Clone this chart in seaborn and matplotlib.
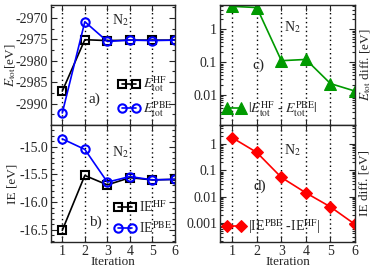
import numpy as np
import pandas as pd
import matplotlib
matplotlib.use("Agg")
import matplotlib.pyplot as plt
from matplotlib.ticker import FixedLocator, FixedFormatter, AutoMinorLocator, LogLocator, NullFormatter
import seaborn as sns

iteration = [1, 2, 3, 4, 5, 6]
etot_hf = [-2987.1, -2975.1, -2975.3, -2975.2, -2975.2, -2975.2]
etot_pbe = [-2992.2, -2970.9, -2975.5, -2975.2, -2975.3, -2975.2]
ie_hf = [-16.51, -15.52, -15.69, -15.56, -15.60, -15.59]
ie_pbe = [-14.86, -15.05, -15.64, -15.54, -15.60, -15.59]
etot_diff = [5.0, 4.6, 0.11, 0.12, 0.022, 0.013]
ie_diff = [1.74, 0.48, 0.054, 0.014, 0.0041, 0.00089]

sns.set_style("ticks")
plt.rcParams['font.family'] = ['Liberation Serif', 'DejaVu Serif']
plt.rcParams['mathtext.fontset'] = 'stix'
plt.rcParams['axes.unicode_minus'] = False
plt.rcParams['xtick.direction'] = 'in'
plt.rcParams['ytick.direction'] = 'in'

fig = plt.figure(figsize=(3.74, 2.69), dpi=100)
L0, L1 = 51/374, 175/374
R0, R1 = 220/374, 355/374
yt, ym, yb = 1-5/269, 1-125/269, 1-242/269
axa = fig.add_axes([L0, ym, L1-L0, yt-ym])
axb = fig.add_axes([L0, yb, L1-L0, ym-yb])
axc = fig.add_axes([R0, ym, R1-R0, yt-ym])
axd = fig.add_axes([R0, yb, R1-R0, ym-yb])

df = pd.DataFrame({"it": iteration, "etot_hf": etot_hf, "etot_pbe": etot_pbe,
                   "ie_hf": ie_hf, "ie_pbe": ie_pbe, "etot_diff": etot_diff, "ie_diff": ie_diff})

fs = 10
lfs = 9.5
lw = 1.2
ms = 5.5

leg_kw = dict(numpoints=2, frameon=False, fontsize=fs, handlelength=1.6,
              handletextpad=0.2, labelspacing=0.35, borderaxespad=0.1, borderpad=0.1)

def common(ax, bottom):
    ax.set_xlim(0.5, 6.0)
    ax.xaxis.set_major_locator(FixedLocator(iteration))
    for x in iteration[:-1]:
        ax.axvline(x, color='black', ls=(0, (1, 2.2)), lw=1.0, zorder=0)
    ax.tick_params(which='both', top=True, right=True, labelsize=fs, width=0.8, pad=2)
    ax.tick_params(which='major', length=4)
    ax.tick_params(which='minor', length=2)
    for s in ax.spines.values():
        s.set_linewidth(1.0)
    if bottom:
        ax.set_xlabel("Iteration", fontsize=lfs, labelpad=-1)
    else:
        ax.set_xlabel("")
        ax.xaxis.set_major_formatter(NullFormatter())
    ax.set_facecolor('white')

# a)
sns.lineplot(data=df, x="it", y="etot_hf", ax=axa, color='black', marker='s', markersize=ms,
             markerfacecolor='none', markeredgecolor='black', markeredgewidth=1.5, lw=lw,
             label=r"$E_{\rm tot}^{\rm HF}$")
sns.lineplot(data=df, x="it", y="etot_pbe", ax=axa, color='blue', marker='o', markersize=ms + 0.5,
             markerfacecolor='none', markeredgecolor='blue', markeredgewidth=1.5, lw=lw,
             label=r"$E_{\rm tot}^{\rm PBE}$")
common(axa, False)
axa.set_ylim(-2995, -2967)
axa.set_yticks([-2990, -2985, -2980, -2975, -2970])
axa.yaxis.set_minor_locator(AutoMinorLocator(2))
axa.set_ylabel(r"$E_{\rm tot}$[eV]", fontsize=lfs)
axa.yaxis.set_label_coords(-0.265, 0.5)
axa.legend(loc='lower right', bbox_to_anchor=(1.0, 0.03), **leg_kw)
axa.text(2.15, -2989.8, "a)", fontsize=fs + 1)
axa.text(3.2, -2971.5, r"N$_2$", fontsize=fs)

# b)
sns.lineplot(data=df, x="it", y="ie_hf", ax=axb, color='black', marker='s', markersize=ms,
             markerfacecolor='none', markeredgecolor='black', markeredgewidth=1.5, lw=lw,
             label=r"IE$^{\rm HF}$")
sns.lineplot(data=df, x="it", y="ie_pbe", ax=axb, color='blue', marker='o', markersize=ms + 0.5,
             markerfacecolor='none', markeredgecolor='blue', markeredgewidth=1.5, lw=lw,
             label=r"IE$^{\rm PBE}$")
common(axb, True)
axb.set_ylim(-16.72, -14.61)
axb.set_yticks([-16.5, -16.0, -15.5, -15.0])
axb.yaxis.set_minor_locator(AutoMinorLocator(5))
axb.set_ylabel("IE [eV]", fontsize=lfs)
axb.yaxis.set_label_coords(-0.265, 0.5)
axb.legend(loc='lower right', bbox_to_anchor=(1.0, 0.03), **leg_kw)
axb.text(2.2, -16.42, "b)", fontsize=fs + 1)
axb.text(3.2, -15.17, r"N$_2$", fontsize=fs)

# c)
green = '#009a00'
sns.lineplot(data=df, x="it", y="etot_diff", ax=axc, color=green, marker='^', markersize=ms + 2.5,
             markeredgecolor=green, markerfacecolor=green, lw=lw,
             label=r"$|E_{\rm tot}^{\rm HF}$ - $E_{\rm tot}^{\rm PBE}|$")
axc.set_yscale('log')
common(axc, False)
axc.set_ylim(0.0012, 5.5)
axc.yaxis.set_major_locator(FixedLocator([0.01, 0.1, 1]))
axc.yaxis.set_major_formatter(FixedFormatter(["0.01", "0.1", "1"]))
axc.yaxis.set_minor_locator(LogLocator(base=10, subs=np.arange(2, 10), numticks=20))
axc.yaxis.set_minor_formatter(NullFormatter())
axc.yaxis.set_label_position('right')
axc.set_ylabel(r"$E_{\rm tot}$ diff. [eV]", fontsize=lfs)
axc.yaxis.set_label_coords(1.025, 0.5)
axc.legend(loc='lower left', bbox_to_anchor=(0.0, 0.03), **leg_kw)
axc.text(1.8, 0.06, "c)", fontsize=fs + 1)
axc.text(3.1, 0.9, r"N$_2$", fontsize=fs)

# d)
red = '#ff0000'
sns.lineplot(data=df, x="it", y="ie_diff", ax=axd, color=red, marker='D', markersize=ms + 0.5,
             markeredgecolor=red, markerfacecolor=red, lw=lw,
             label=r"|IE$^{\rm PBE}$ -IE$^{\rm HF}$|")
axd.set_yscale('log')
common(axd, True)
axd.set_ylim(0.00019, 5.3)
axd.yaxis.set_major_locator(FixedLocator([0.001, 0.01, 0.1, 1]))
axd.yaxis.set_major_formatter(FixedFormatter(["0.001", "0.01", "0.1", "1"]))
axd.yaxis.set_minor_locator(LogLocator(base=10, subs=np.arange(2, 10), numticks=20))
axd.yaxis.set_minor_formatter(NullFormatter())
axd.yaxis.set_label_position('right')
axd.set_ylabel("IE diff. [eV]", fontsize=lfs)
axd.yaxis.set_label_coords(1.025, 0.5)
axd.legend(loc='lower left', bbox_to_anchor=(0.0, 0.03), **leg_kw)
axd.text(1.85, 0.018, "d)", fontsize=fs + 1)
axd.text(3.1, 0.42, r"N$_2$", fontsize=fs)

fig.savefig("out.png", dpi=100)
